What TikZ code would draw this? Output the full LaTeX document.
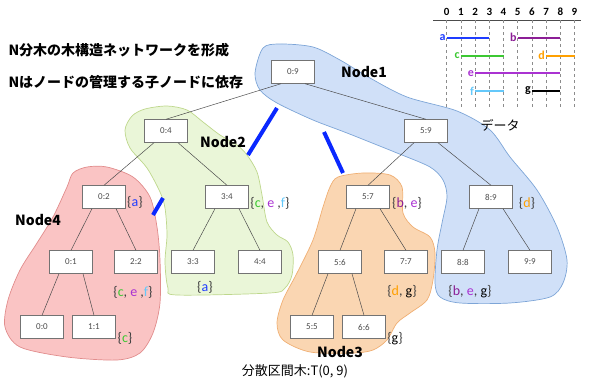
\documentclass[tikz,border=0pt]{standalone}
\usepackage{fontspec}
\setmainfont{Carlito}
\newfontfamily\jp{Noto Sans CJK JP}
\usetikzlibrary{arrows}
\usetikzlibrary{shapes}

\definecolor{ca}{RGB}{30,60,255}
\definecolor{cb}{RGB}{140,30,150}
\definecolor{cc}{RGB}{60,200,50}
\definecolor{cd}{RGB}{255,160,0}
\definecolor{ce}{RGB}{170,50,210}
\definecolor{cf}{RGB}{100,200,250}
\definecolor{cg}{RGB}{0,0,0}
\definecolor{linkblue}{RGB}{10,40,255}
\definecolor{onefill}{RGB}{208,224,248}
\definecolor{oneline}{RGB}{125,165,215}
\definecolor{twofill}{RGB}{234,246,216}
\definecolor{twoline}{RGB}{190,215,140}
\definecolor{threefill}{RGB}{250,214,178}
\definecolor{threeline}{RGB}{240,175,115}
\definecolor{fourfill}{RGB}{250,196,196}
\definecolor{fourline}{RGB}{225,140,140}

\begin{document}
\begin{tikzpicture}
      [x=1pt,y=-1pt,
        box/.style={draw=black!55, fill=white, minimum width=43pt, minimum height=23pt,
          inner sep=0pt, text=black!70, font=\fontsize{9}{10}\selectfont},
        branch/.style={black!70, line width=0.5pt},
        link/.style={linkblue, line width=4pt},
        cluster/.style={line width=0.7pt},
        members/.style={text=black!75, font=\fontsize{14}{16}\selectfont},
        tag/.style={font=\jp\bfseries\fontsize{14}{16}\selectfont},
        bar/.style={line width=2pt}]
  \useasboundingbox (0,0) rectangle (589,388);

  \draw[cluster, draw=oneline, fill=onefill] plot[smooth cycle, tension=0.5] coordinates
    {(255,73) (263,48) (280,44) (313,47) (340,60) (370,78) (407,97) (457,111) (490,130)
     (510,157) (537,190) (557,227) (567,260) (563,283) (550,297) (510,303) (460,303)
     (440,297) (435,283) (437,250) (442,223) (447,197) (443,180) (430,167) (397,153)
     (347,133) (313,120) (277,103) (260,90)};
  \draw[cluster, draw=twoline, fill=twofill] plot[smooth cycle, tension=0.5] coordinates
    {(125,130) (132,116) (145,109) (167,106) (187,110) (203,122) (220,135) (237,145)
     (247,155) (257,172) (262,195) (267,222) (277,235) (288,242) (293,255) (292,275)
     (285,288) (270,293) (177,295) (168,288) (165,262) (167,235) (165,208) (160,192)
     (147,168) (130,148)};
  \draw[cluster, draw=fourline, fill=fourfill] plot[smooth cycle, tension=0.5] coordinates
    {(73,173) (87,167) (107,167) (133,177) (150,197) (157,227) (160,260) (160,303)
     (153,333) (140,353) (117,360) (67,357) (20,347) (5,327) (8,300) (20,270) (37,243)
     (53,217) (67,187)};
  \draw[cluster, draw=threeline, fill=threefill] plot[smooth cycle, tension=0.5] coordinates
    {(330,187) (338,177) (363,173) (390,175) (402,187) (403,213) (413,227) (430,237)
     (435,253) (433,280) (427,300) (410,313) (397,323) (387,340) (373,350) (353,353)
     (310,352) (283,340) (277,323) (283,300) (297,273) (313,240) (323,207)};

  \coordinate (l1a) at (248,155); \coordinate (l1b) at (277,108);
  \coordinate (l2a) at (324,132); \coordinate (l2b) at (343,173);
  \coordinate (l3a) at (153,215); \coordinate (l3b) at (163,198);
  \draw[link] (l1a) -- (l1b);
  \draw[link] (l2a) -- (l2b);
  \draw[link] (l3a) -- (l3b);

  \node[box] (n09) at (293,72) {0:9};
  \node[box] (n04) at (166,131) {0:4};
  \node[box] (n59) at (426,131) {5:9};
  \node[box] (n02) at (104,197) {0:2};
  \node[box] (n34) at (227,197) {3:4};
  \node[box] (n57) at (368,197) {5:7};
  \node[box] (n89) at (491,197) {8:9};
  \node[box] (n01) at (71,262) {0:1};
  \node[box] (n22) at (136,262) {2:2};
  \node[box] (n33) at (193,262) {3:3};
  \node[box] (n44) at (260,262) {4:4};
  \node[box] (n56) at (340,262) {5:6};
  \node[box] (n77) at (406,262) {7:7};
  \node[box] (n88) at (463,262) {8:8};
  \node[box] (n99) at (530,262) {9:9};
  \node[box] (n00) at (42,327) {0:0};
  \node[box] (n11) at (94,327) {1:1};
  \node[box] (n55) at (312,327) {5:5};
  \node[box] (n66) at (364,327) {6:6};

  \foreach \p/\l/\r in {n09/n04/n59, n04/n02/n34, n59/n57/n89, n02/n01/n22,
      n34/n33/n44, n57/n56/n77, n89/n88/n99, n01/n00/n11, n56/n55/n66} {
    \draw[branch] ([xshift=-12pt]\p.south) -- (\l.north);
    \draw[branch] ([xshift=12pt]\p.south) -- (\r.north);
  }

  \node[members] (s02) at (135,202) {\{\textcolor{ca}{a}\}};
  \node[members] (s34) at (270,203) {\{\textcolor{cc}{c}, \textcolor{ce}{e} ,\textcolor{cf}{f}\}};
  \node[members] (s22) at (133,292) {\{\textcolor{cc}{c}, \textcolor{ce}{e} ,\textcolor{cf}{f}\}};
  \node[members] (s33) at (205,287) {\{\textcolor{ca}{a}\}};
  \node[members] (s11) at (125,338) {\{\textcolor{cc}{c}\}};
  \node[members] (s57) at (407,203) {\{\textcolor{cb}{b}, \textcolor{ce}{e}\}};
  \node[members] (s89) at (527,203) {\{\textcolor{cd}{d}\}};
  \node[members] (s77) at (402,292) {\{\textcolor{cd}{d}, \textcolor{cg}{g}\}};
  \node[members] (s88) at (470,292) {\{\textcolor{cb}{b}, \textcolor{ce}{e}, \textcolor{cg}{g}\}};
  \node[members] (s66) at (395,339) {\{\textcolor{cg}{g}\}};

  \node[tag] (t1) at (364,72) {Node1};
  \node[tag] (t2) at (223,142) {Node2};
  \node[tag] (t3) at (340,352) {Node3};
  \node[tag] (t4) at (38,220) {Node4};

  \node[anchor=west, font=\jp\bfseries\fontsize{14}{16}\selectfont] (head1) at (5,50)
    {N分木の木構造ネットワークを形成};
  \node[anchor=west, font=\jp\bfseries\fontsize{14}{16}\selectfont] (head2) at (5,82)
    {Nはノードの管理する子ノードに依存};
  \node[font=\jp\fontsize{13}{15}\selectfont] (caption) at (295,371) {分散区間木:T(0, 9)};

  \draw[black!70, line width=1pt] (433,20) -- (581,20);
  \foreach \i in {0,...,9} {
    \node[font=\bfseries\fontsize{11}{12}\selectfont] (k\i) at (446.7+14.2*\i,12) {\i};
    \draw[dashed, black!45, line width=0.5pt] (446.7+14.2*\i,20) -- (446.7+14.2*\i,108);
  }
  \foreach \n/\c/\a/\b/\y in {a/ca/0/3/37.7, b/cb/5/8/37.7, c/cc/1/4/55.7, d/cd/7/9/55.7,
      e/ce/2/8/73.3, f/cf/2/4/91, g/cg/6/8/91} {
    \draw[bar, \c] (446.7+14.2*\a,\y) -- (446.7+14.2*\b,\y);
    \node[left, inner sep=1pt, text=\c, font=\bfseries\fontsize{12}{12}\selectfont] (d\n)
      at (446.7+14.2*\a,\y) {\n};
  }
  \node[font=\jp\fontsize{13}{15}\selectfont] (data) at (500,125) {データ};
\end{tikzpicture}
\end{document}
